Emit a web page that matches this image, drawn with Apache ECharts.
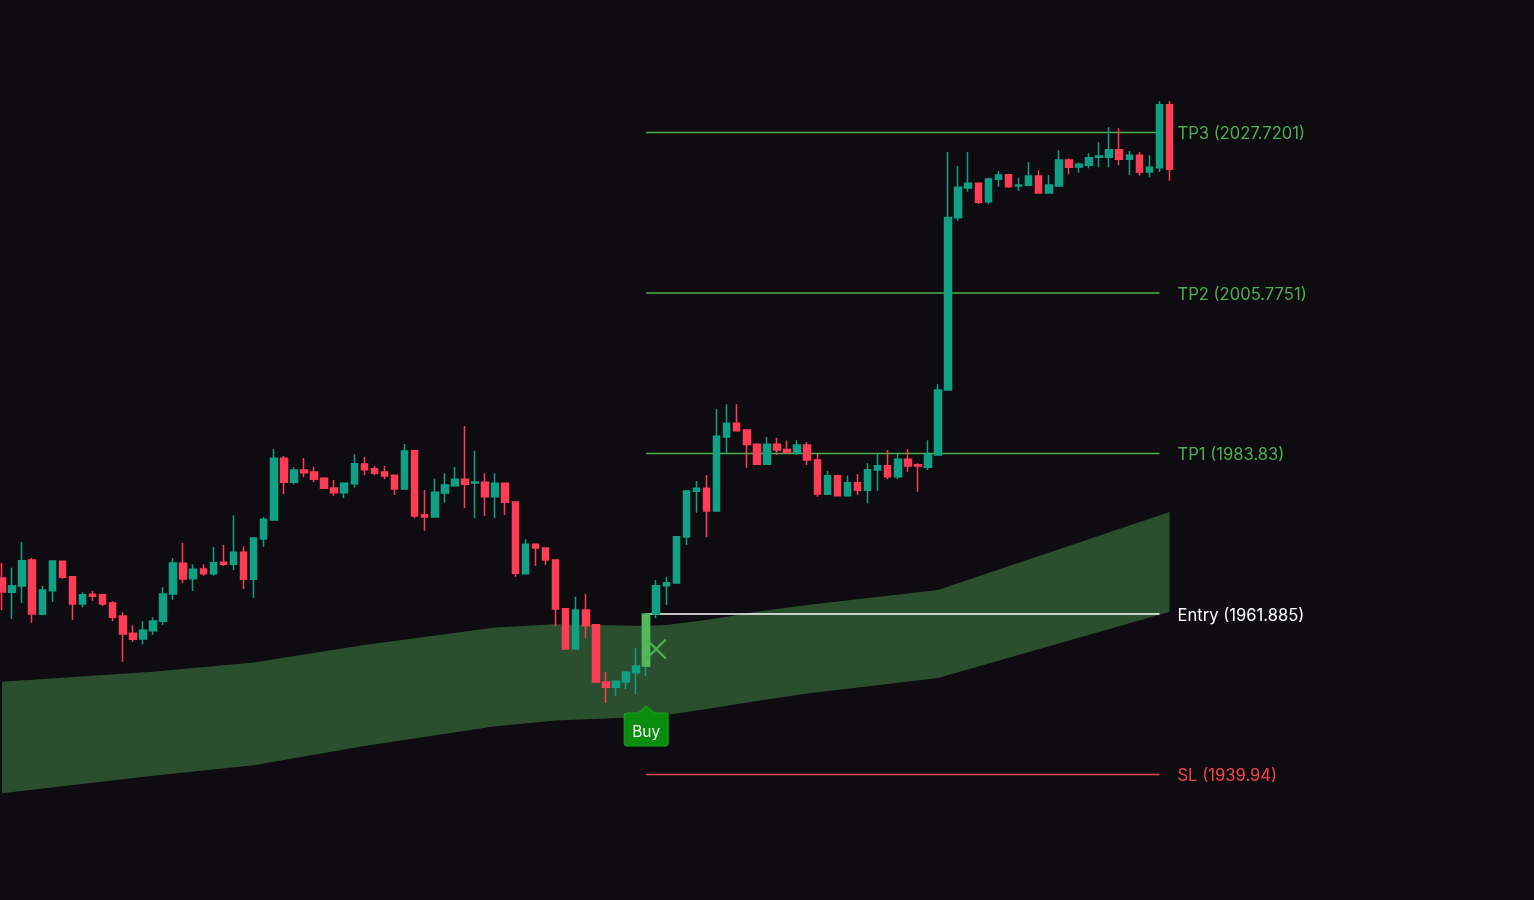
<!DOCTYPE html>
<html>
<head>
<meta charset="utf-8">
<title>Buy signal</title>
<script src="https://cdn.jsdelivr.net/npm/echarts@6/dist/echarts.min.js"></script>
<style>
html, body { margin: 0; padding: 0; background: #0e0c10; }
#main { width: 1534px; height: 900px; }
</style>
</head>
<body>
<div id="main"></div>
<script>
var opens = [
    1966.81,1964.85,1965.71,1969.27,1961.84,1965.07,1969.09,1966.99,1963.25,1964.58,
    1964.52,1963.39,1961.61,1959.25,1958.47,1959.60,1960.89,1964.62,1968.82,1966.71,
    1968.04,1967.40,1968.95,1968.68,1970.34,1966.63,1972.14,1974.74,1983.17,1979.89,
    1981.57,1981.30,1980.44,1979.11,1978.47,1979.70,1982.39,1981.75,1981.30,1980.85,
    1978.98,1984.21,1975.46,1975.15,1978.43,1979.43,1980.30,1979.80,1979.89,1977.92,
    1979.76,1977.20,1967.40,1971.42,1970.91,1969.27,1962.61,1957.10,1962.43,1960.42,
    1952.59,1951.86,1952.59,1953.86,1954.78,1961.89,1965.75,1966.12,1972.41,1978.66,
    1979.07,1975.97,1986.09,1987.96,1987.04,1985.10,1982.37,1985.10,1984.38,1983.90,
    1984.99,1982.94,1978.25,1980.80,1978.06,1979.84,1978.80,1981.57,1982.16,1980.66,
    1983.04,1982.30,1981.94,1983.63,1992.51,2016.07,2020.13,2020.78,2018.26,2021.32,
    2021.95,2020.41,2020.50,2021.77,2019.45,2020.41,2023.96,2023.00,2023.24,2024.33,
    2024.33,2025.37,2024.06,2024.60,2022.32,2022.91,2031.52
];
var closes = [
    1964.89,1965.75,1969.17,1961.89,1965.17,1969.13,1966.90,1963.25,1964.52,1964.31,
    1963.25,1961.43,1959.15,1958.43,1959.66,1960.93,1964.62,1968.86,1966.67,1968.00,
    1967.40,1968.90,1968.68,1970.32,1966.63,1972.28,1974.83,1983.17,1979.89,1981.57,
    1981.21,1980.30,1979.07,1978.47,1979.76,1982.44,1981.62,1981.12,1980.75,1978.98,
    1984.17,1975.28,1975.15,1978.52,1979.52,1980.30,1979.62,1979.93,1977.92,1979.76,
    1977.16,1967.45,1971.42,1970.91,1969.27,1962.57,1957.10,1962.43,1960.29,1952.59,
    1951.86,1952.68,1953.91,1954.78,1961.84,1965.75,1966.17,1972.45,1978.70,1979.07,
    1975.97,1986.18,1987.96,1986.95,1985.06,1982.37,1985.10,1984.31,1983.97,1984.99,
    1982.94,1978.29,1980.80,1978.06,1979.84,1978.80,1981.62,1982.16,1980.66,1983.04,
    1982.12,1982.12,1983.67,1992.51,2016.10,2020.23,2020.78,2018.18,2021.36,2021.91,
    2020.31,2020.54,2021.77,2019.45,2020.54,2023.96,2022.96,2023.37,2024.28,2024.51,
    2025.37,2024.06,2024.60,2022.32,2022.96,2031.52,2022.69
];
var lows = [
    1962.43,1961.20,1963.39,1960.70,1961.75,1963.53,1966.71,1961.06,1962.80,1963.70,
    1962.98,1960.89,1955.36,1958.06,1957.74,1959.05,1960.38,1963.84,1966.08,1965.03,
    1967.12,1967.12,1968.45,1967.90,1965.30,1964.11,1971.09,1974.74,1978.29,1979.62,
    1980.58,1979.93,1979.07,1978.06,1977.71,1979.15,1980.85,1980.85,1980.30,1978.16,
    1978.98,1974.97,1973.27,1975.15,1977.10,1979.43,1976.34,1974.97,1975.28,1974.97,
    1975.42,1966.99,1967.31,1968.45,1968.59,1960.24,1957.03,1957.00,1958.56,1952.55,
    1949.68,1950.71,1951.59,1950.91,1953.41,1961.30,1963.12,1966.10,1971.32,1975.74,
    1972.37,1975.97,1983.86,1986.95,1981.89,1982.37,1982.37,1983.63,1983.86,1983.63,
    1982.26,1977.92,1978.16,1977.98,1978.06,1978.16,1977.02,1978.74,1980.30,1980.34,
    1981.34,1978.61,1981.57,1983.53,1992.51,2015.66,2019.63,2017.94,2017.90,2020.31,
    2020.17,2019.76,2020.50,2019.35,2019.45,2020.31,2022.01,2022.22,2022.83,2022.96,
    2022.96,2023.24,2021.91,2021.81,2021.60,2022.32,2021.13
];
var highs = [
    1968.86,1968.22,1971.73,1969.54,1965.71,1969.23,1969.17,1967.05,1964.85,1965.03,
    1964.55,1963.62,1962.12,1960.34,1960.89,1961.43,1965.54,1969.54,1971.59,1968.68,
    1968.68,1971.05,1971.36,1975.35,1971.11,1972.37,1975.19,1984.45,1983.49,1981.94,
    1983.21,1982.03,1980.58,1980.21,1979.89,1983.72,1983.39,1982.12,1982.12,1980.93,
    1985.13,1984.25,1978.84,1980.38,1981.12,1981.98,1987.59,1984.21,1981.12,1981.12,
    1979.84,1977.30,1972.10,1971.45,1971.00,1969.30,1962.71,1964.25,1964.66,1960.45,
    1953.95,1952.72,1954.13,1957.20,1961.89,1966.53,1966.99,1972.50,1978.84,1980.07,
    1980.89,1989.91,1990.56,1990.56,1987.08,1985.23,1986.09,1985.95,1985.61,1985.64,
    1985.40,1983.76,1981.44,1980.93,1980.80,1981.03,1982.49,1983.76,1984.31,1983.76,
    1984.40,1982.49,1985.64,1993.29,2025.05,2023.14,2025.05,2020.91,2021.54,2022.46,
    2022.05,2021.54,2023.65,2022.55,2021.91,2025.29,2024.19,2023.65,2024.88,2026.38,
    2028.43,2028.30,2025.19,2025.05,2024.60,2031.99,2032.03
];

// one empty slot after the last bar so it is not cut by the grid
var categories = opens.map(function (v, i) { return String(i + 1); }).concat(['']);

var bandIndex = [0, 15, 25, 36, 49, 55, 64, 66, 70, 75, 80, 93, 116];
var bandUpper = [1952.63,1954.00,1955.25,1957.65,1960.04,1960.48,1960.24,1960.38,1961.06,1962.20,1963.12,1965.17,1975.83];
var bandLower = [1937.37,1939.78,1941.20,1943.84,1946.53,1947.32,1947.80,1948.08,1948.90,1949.99,1951.02,1953.13,1962.20];

var levelNames = ['TP3', 'TP2', 'TP1', 'Entry', 'SL'];
var levelValues = [2027.7201, 2005.7751, 1983.83, 1961.885, 1939.94];
var levelLabels = ['2027.7201', '2005.7751', '1983.83', '1961.885', '1939.94'];
var levelStart = 64;
var levelEnd = 115;

var buyIndex = 64;
var buyMarkPrice = 1946.57;
var crossIndex = 65;
var crossPrice = 1957.10;

var GREEN = '#10a085';
var RED = '#fd3c56';
var TP_GREEN = '#4caf50';
var LEVEL_COLORS = { TP3: TP_GREEN, TP2: TP_GREEN, TP1: TP_GREEN, Entry: '#ffffff', SL: '#f0454f' };

var candleData = opens.map(function (o, i) {
    return [o, closes[i], lows[i], highs[i]];
});

// the signal bar keeps its teal wick, only the body is painted lighter on top
var buyBody = opens.map(function (o, i) {
    return i === buyIndex ? [o, closes[i], o, closes[i]] : '-';
});

var levelSeries = levelNames.map(function (name, i) {
    return {
        name: name,
        type: 'line',
        z: 2,
        silent: true,
        symbol: 'none',
        clip: false,
        animation: false,
        lineStyle: { color: LEVEL_COLORS[name], width: name === 'Entry' ? 1.6 : 1.3 },
        data: [[levelStart, levelValues[i]], [levelEnd, levelValues[i]]],
        endLabel: {
            show: true,
            distance: 18,
            offset: [0, 1.5],
            color: LEVEL_COLORS[name],
            fontFamily: 'Inter',
            fontSize: 16.6,
            formatter: name + ' (' + levelLabels[i] + ')'
        }
    };
});

var chart = echarts.init(document.getElementById('main'));
chart.setOption({
    backgroundColor: '#0e0c10',
    animation: false,
    grid: { left: 2, top: 0, width: 1177.6, height: 900 },
    xAxis: {
        type: 'category',
        data: categories,
        boundaryGap: false,
        show: false
    },
    yAxis: {
        type: 'value',
        min: 1922.78,
        max: 2045.84,
        show: false,
        splitLine: { show: false }
    },
    series: [{
        type: 'custom',
        z: 1,
        silent: true,
        data: bandIndex.map(function (x, i) { return [x, bandUpper[i], bandLower[i]]; }),
        encode: { x: 0, y: [1, 2] },
        renderItem: function (params, api) {
            if (params.dataIndex !== 0) {
                return;
            }
            var pts = [];
            bandIndex.forEach(function (x, i) { pts.push(api.coord([x, bandUpper[i]])); });
            for (var k = bandIndex.length - 1; k >= 0; k--) {
                pts.push(api.coord([bandIndex[k], bandLower[k]]));
            }
            return { type: 'polygon', shape: { points: pts }, style: { fill: '#2b4f2e' } };
        }
    }].concat(levelSeries).concat([{
        type: 'candlestick',
        z: 3,
        silent: true,
        barWidth: 7,
        data: candleData,
        itemStyle: {
            color: GREEN,
            color0: RED,
            borderColor: GREEN,
            borderColor0: RED,
            borderWidth: 1.5
        }
    }, {
        type: 'candlestick',
        z: 4,
        silent: true,
        barWidth: 7,
        data: buyBody,
        itemStyle: {
            color: '#55b95a',
            color0: '#55b95a',
            borderColor: '#55b95a',
            borderColor0: '#55b95a',
            borderWidth: 1.5
        }
    }, {
        type: 'scatter',
        z: 4,
        silent: true,
        symbol: 'path://M0 0L20 20M20 0L0 20',
        symbolSize: 19,
        itemStyle: { color: 'none', borderColor: TP_GREEN, borderWidth: 2.4, opacity: 1 },
        data: [[crossIndex, crossPrice]]
    }, {
        type: 'scatter',
        z: 5,
        silent: true,
        symbol: 'path://M22 0L30 7H41Q44 7 44 10V37Q44 40 41 40H3Q0 40 0 37V10Q0 7 3 7H14Z',
        symbolSize: [44, 40],
        itemStyle: { color: '#0a8c0f', borderColor: '#17a31c', borderWidth: 1, opacity: 1 },
        label: {
            show: true,
            position: 'inside',
            offset: [0, 6],
            formatter: 'Buy',
            color: '#f2f7f2',
            fontFamily: 'Inter',
            fontSize: 15.5
        },
        data: [[buyIndex, buyMarkPrice]]
    }])
});
</script>
</body>
</html>
